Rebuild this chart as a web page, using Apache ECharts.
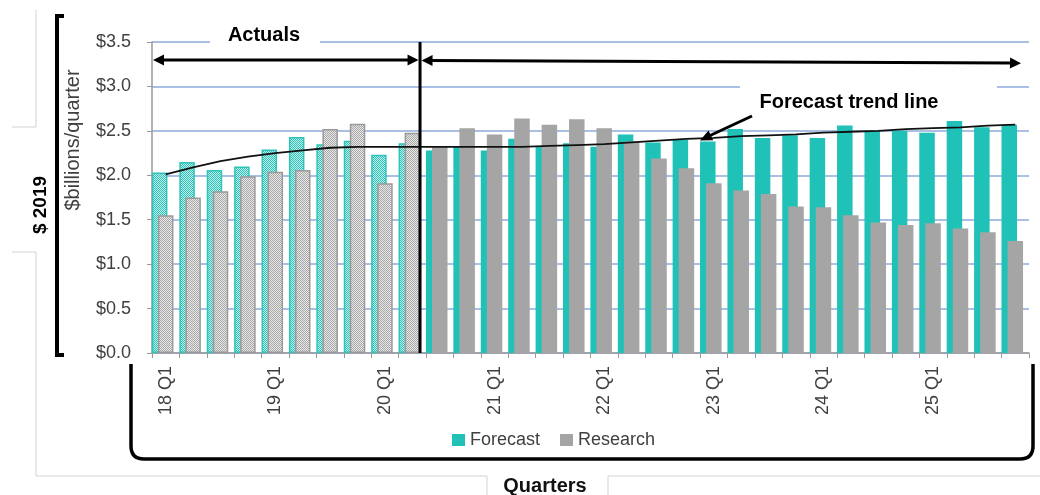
<!DOCTYPE html>
<html>
<head>
<meta charset="utf-8">
<script src="https://cdn.jsdelivr.net/npm/echarts@6/dist/echarts.min.js"></script>
<style>
  html, body { margin: 0; padding: 0; background: #ffffff; }
  #chart { width: 1040px; height: 495px; }
</style>
</head>
<body>
<div id="chart"></div>
<script>
// Quarterly spending, $ billions per quarter (2019 dollars)
const quarters = [
  '18 Q1', '18 Q2', '18 Q3', '18 Q4',
  '19 Q1', '19 Q2', '19 Q3', '19 Q4',
  '20 Q1', '20 Q2', '20 Q3', '20 Q4',
  '21 Q1', '21 Q2', '21 Q3', '21 Q4',
  '22 Q1', '22 Q2', '22 Q3', '22 Q4',
  '23 Q1', '23 Q2', '23 Q3', '23 Q4',
  '24 Q1', '24 Q2', '24 Q3', '24 Q4',
  '25 Q1', '25 Q2', '25 Q3', '25 Q4'
];
const forecast = [
  2.03, 2.15, 2.06, 2.10, 2.29, 2.43, 2.35, 2.39,
  2.23, 2.36, 2.28, 2.32, 2.28, 2.41, 2.32, 2.36,
  2.32, 2.46, 2.37, 2.40, 2.38, 2.52, 2.42, 2.45,
  2.42, 2.56, 2.50, 2.50, 2.48, 2.61, 2.54, 2.57
];
const research = [
  1.55, 1.75, 1.82, 1.99, 2.04, 2.06, 2.52, 2.58,
  1.91, 2.48, 2.32, 2.53, 2.46, 2.64, 2.57, 2.63,
  2.53, 2.38, 2.19, 2.08, 1.91, 1.83, 1.79, 1.65,
  1.64, 1.55, 1.47, 1.44, 1.46, 1.40, 1.36, 1.26
];
const trend = [
  2.01, 2.09, 2.16, 2.21, 2.25, 2.28, 2.31, 2.32,
  2.32, 2.32, 2.32, 2.32, 2.32, 2.32, 2.33, 2.34,
  2.35, 2.37, 2.39, 2.41, 2.42, 2.44, 2.45, 2.46,
  2.48, 2.49, 2.50, 2.52, 2.53, 2.54, 2.56, 2.57
];
// the first quarters are actuals, the rest are projections
const actualCount = 10;

const FONT = '"Liberation Sans", Arial, sans-serif';
const TEAL = '#20c1b7';
const GREY = '#a5a5a5';
const TEXT = '#404040';

// fine dotted fills used for the actual quarters
function dotPattern(base, dot) {
  const c = document.createElement('canvas');
  c.width = 4; c.height = 4;
  const g = c.getContext('2d');
  g.fillStyle = base; g.fillRect(0, 0, 4, 4);
  g.fillStyle = dot;
  for (let y = 0; y < 4; y++)
    for (let x = 0; x < 4; x++)
      if ((x + y) % 2 === 0) g.fillRect(x, y, 1, 1);
  return c;
}
const tealDots = { image: dotPattern('#c4eeeb', '#2cc2b8'), repeat: 'repeat' };
const greyDots = { image: dotPattern('#e8e8e8', '#a8a8a8'), repeat: 'repeat' };

function withActualStyle(values, fill, border) {
  return values.map((v, i) => i < actualCount
    ? { value: v, itemStyle: { color: fill, borderColor: border, borderWidth: 1.5 } }
    : v);
}

const chart = echarts.init(document.getElementById('chart'), null, { renderer: 'canvas' });

const option = {
  animation: false,
  backgroundColor: '#ffffff',
  textStyle: { fontFamily: FONT },
  grid: { left: 152, right: 11, top: 42, bottom: 142 },
  legend: {
    data: ['Forecast', 'Research'],
    left: 447, top: 426,
    icon: 'rect', itemWidth: 13, itemHeight: 12, itemGap: 20,
    textStyle: { fontSize: 18, color: TEXT, fontFamily: FONT }
  },
  xAxis: {
    type: 'category',
    data: quarters,
    axisLine: { lineStyle: { color: '#9a9a9a', width: 1.5 } },
    axisTick: { show: true, interval: 0, length: 5, lineStyle: { color: '#9a9a9a' } },
    axisLabel: { interval: 3, rotate: 90, margin: 13, fontSize: 18, color: TEXT, fontFamily: FONT },
    splitLine: { show: false }
  },
  yAxis: {
    type: 'value',
    min: 0, max: 3.5, interval: 0.5,
    axisLine: { show: true, lineStyle: { color: '#9a9a9a', width: 1.5 } },
    axisTick: { show: true, length: 5, lineStyle: { color: '#9a9a9a' } },
    axisLabel: { margin: 21, fontSize: 18, color: TEXT, fontFamily: FONT,
                 formatter: v => '$' + v.toFixed(1) },
    splitLine: { lineStyle: { color: '#8eaadb', width: 1.5 } }
  },
  series: [
    {
      name: 'Forecast', type: 'bar',
      barWidth: 15.5, barGap: '-61%',
      itemStyle: { color: TEAL },
      data: withActualStyle(forecast, tealDots, '#2ec4b9')
    },
    {
      name: 'Research', type: 'bar',
      barWidth: 15.5, barGap: '-61%',
      itemStyle: { color: GREY },
      data: withActualStyle(research, greyDots, '#9a9a9a')
    },
    {
      // empty slot so each pair of bars sits at the left of its quarter
      name: 'slot', type: 'bar', barWidth: 15.5, barGap: '-61%', data: []
    },
    {
      name: 'Forecast trend line', type: 'line',
      data: trend, z: 5,
      showSymbol: false, symbol: 'none',
      lineStyle: { color: '#111111', width: 1.8 }
    }
  ]
};
chart.setOption(option);

// ---- annotations placed from the axes ----
const px = i => chart.convertToPixel({ xAxisIndex: 0 }, i);
const py = v => chart.convertToPixel({ yAxisIndex: 0 }, v);
const band = px(1) - px(0);
const plotLeft = px(0) - band / 2;
const yTop = py(3.5), yBottom = py(0);
const divX = px(actualCount - 1) + band * 0.28;

function head(tx, ty, fx, fy, len, hw) {
  const dx = tx - fx, dy = ty - fy, d = Math.hypot(dx, dy);
  const ux = dx / d, uy = dy / d;
  const bx = tx - ux * len, by = ty - uy * len;
  return { type: 'polygon', z: 60,
    shape: { points: [[tx, ty], [bx - uy * hw, by + ux * hw], [bx + uy * hw, by - ux * hw]] },
    style: { fill: '#000' } };
}
function seg(x1, y1, x2, y2, w, color, z) {
  return { type: 'line', z: z || 60,
    shape: { x1, y1, x2, y2 }, style: { stroke: color || '#000', lineWidth: w } };
}
function curve(x1, y1, cx, cy, x2, y2, w) {
  return { type: 'bezierCurve', z: 60,
    shape: { x1, y1, x2, y2, cpx1: cx, cpy1: cy },
    style: { stroke: '#000', lineWidth: w, fill: null } };
}

const arrowY = 60;
const frame = '#d3d3d3';
const graphics = [
  // light frame lines around the side and bottom titles
  { type: 'polyline', z: 1, shape: { points: [[36, 10], [36, 127], [12, 127]] },
    style: { stroke: frame, lineWidth: 1, fill: null } },
  { type: 'polyline', z: 1, shape: { points: [[12, 252], [36, 252], [36, 476], [487, 476], [487, 495]] },
    style: { stroke: frame, lineWidth: 1, fill: null } },
  { type: 'polyline', z: 1, shape: { points: [[608, 495], [608, 476], [1040, 476]] },
    style: { stroke: frame, lineWidth: 1, fill: null } },

  // left bracket for the value axis
  { type: 'polyline', z: 60, shape: { points: [[64, 16], [57, 16], [57, 355], [64, 355]] },
    style: { stroke: '#000', lineWidth: 4, fill: null } },
  // bottom bracket under the quarter labels
  seg(131, 364, 131, 446, 3.5),
  curve(131, 446, 131, 459, 144, 459, 3.5),
  seg(144, 459, 1020, 459, 3.5),
  curve(1020, 459, 1033, 459, 1033, 446, 3.5),
  seg(1033, 446, 1033, 364, 3.5),

  // white label boxes over the gridlines
  { type: 'rect', z: 1, shape: { x: 210, y: 28, width: 110, height: 24 }, style: { fill: '#fff' } },
  { type: 'rect', z: 1, shape: { x: 740, y: 80, width: 257, height: 36 }, style: { fill: '#fff' } },

  // texts
  { type: 'text', z: 61, x: 264, y: 35,
    style: { text: 'Actuals', font: 'bold 20px ' + FONT, fill: '#000', align: 'center', verticalAlign: 'middle' } },
  { type: 'text', z: 61, x: 849, y: 102,
    style: { text: 'Forecast trend line', font: 'bold 20px ' + FONT, fill: '#000', align: 'center', verticalAlign: 'middle' } },
  { type: 'text', z: 61, x: 545, y: 486,
    style: { text: 'Quarters', font: 'bold 20px ' + FONT, fill: '#111', align: 'center', verticalAlign: 'middle' } },
  { type: 'text', z: 61, x: 41, y: 205, rotation: Math.PI / 2,
    style: { text: '$ 2019', font: 'bold 19px ' + FONT, fill: '#000', align: 'center', verticalAlign: 'middle' } },
  { type: 'text', z: 61, x: 73, y: 140, rotation: Math.PI / 2,
    style: { text: '$billions/quarter', font: '20px ' + FONT, fill: TEXT, align: 'center', verticalAlign: 'middle' } },

  // divider between actual and projected quarters
  seg(divX, yTop, divX, yBottom, 3),

  // "Actuals" span arrow
  seg(plotLeft + 8, arrowY, divX - 9, arrowY, 3),
  head(plotLeft + 1, arrowY, plotLeft + 20, arrowY, 11, 5.5),
  head(divX - 1.5, arrowY, divX - 20, arrowY, 11, 5.5),
  // projection span arrow
  seg(divX + 9, arrowY + 0.5, 1012, arrowY + 3, 3),
  head(divX + 1.5, arrowY + 0.5, divX + 20, arrowY + 0.7, 11, 5.5),
  head(1021, arrowY + 3.2, 1000, arrowY + 2.7, 11, 5.5),

  // pointer to the trend line
  seg(752, 116, 709, 136, 3),
  head(700, 140.5, 752, 116, 12, 5.5)
];

chart.setOption({ graphic: graphics });
</script>
</body>
</html>
